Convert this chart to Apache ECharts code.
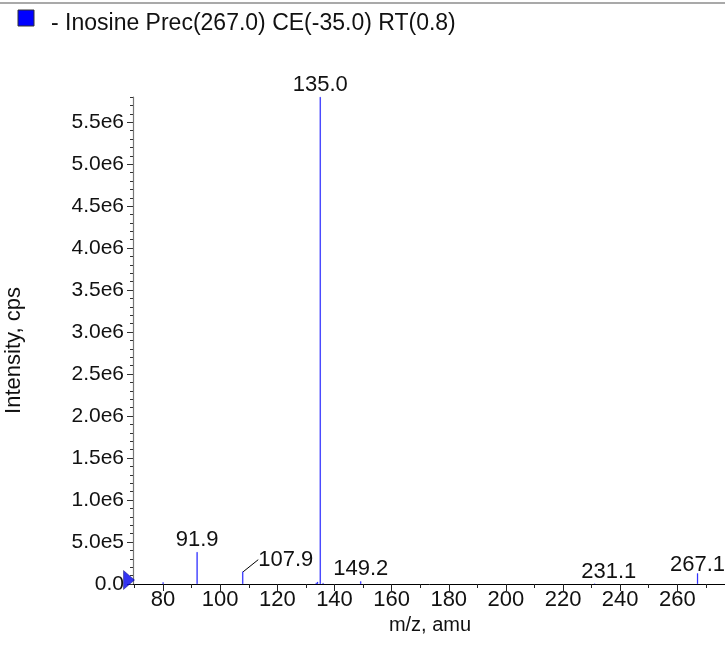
<!DOCTYPE html>
<html>
<head>
<meta charset="utf-8">
<script src="https://cdn.jsdelivr.net/npm/echarts@6/dist/echarts.min.js"></script>
<style>html,body{margin:0;padding:0;background:#fff}#c{width:725px;height:647px}</style>
</head>
<body>
<div id="c"></div>
<script>
// ---- data ----
const seriesName = '- Inosine Prec(267.0) CE(-35.0) RT(0.8)';
const peakMz  = [80.0, 91.9, 107.9, 133.6, 134.1, 135.0, 136.0, 149.2, 231.1, 267.1];
const peakInt = [2.0e4, 3.8e5, 1.47e5, 1.5e4, 2.5e4, 5.8e6, 1.2e4, 3.2e4, 6.0e3, 1.27e5];
const labeledMz = [91.9, 107.9, 135.0, 149.2, 231.1, 267.1];
const xTickLabels = [80, 100, 120, 140, 160, 180, 200, 220, 240, 260];
const xMinorTicks = [70, 80, 90, 100, 110, 120, 130, 140, 150, 160, 170, 180, 190, 200, 210, 220, 230, 240, 250, 260, 270];
const yTickLabels = [0, 5e5, 1e6, 1.5e6, 2e6, 2.5e6, 3e6, 3.5e6, 4e6, 4.5e6, 5e6, 5.5e6];
const yMinorTicks = [];
for (let i = 0; i <= 58; i++) yMinorTicks.push(i * 1e5);
const xMin = 69.47, xMax = 277.4, yMin = 0, yMax = 5.8e6;

// ---- layout (not data) ----
const FONT = 'Liberation Sans, Arial, Helvetica, sans-serif';
const labelShift = { '107.9': [43, 0], '231.1': [14, 0], '267.1': [0, 4] };

const chart = echarts.init(document.getElementById('c'));
const barData = peakMz.map((m, i) => {
  const lab = labeledMz.indexOf(m) >= 0;
  const item = { value: [m, peakInt[i]], label: { show: lab } };
  if (m === 107.9) item.labelLine = { show: true, lineStyle: { color: '#000', width: 1 } };
  return item;
});

const yFmt = v => v === 0 ? '0.0' : v.toExponential(1).replace('e+', 'e');

chart.setOption({
  animation: false,
  backgroundColor: '#fff',
  grid: { left: 133, right: -2, top: 97, bottom: 63, outerBoundsMode: 'none', containLabel: false },
  graphic: [{
    type: 'line', shape: { x1: 0, y1: 3, x2: 725, y2: 3 },
    style: { stroke: '#555', lineWidth: 1.2 }, silent: true
  }, {
    type: 'rect', shape: { x: 18, y: 10, width: 16, height: 16 },
    style: { fill: '#0000ff', stroke: '#333', lineWidth: 1 }, silent: true
  }, {
    type: 'text', x: 51, y: 24, silent: true,
    style: { text: seriesName, fontFamily: FONT, fontSize: 23, fill: '#111', textVerticalAlign: 'middle' }
  }],
  xAxis: [{
    type: 'value', min: xMin, max: xMax,
    name: 'm/z, amu', nameLocation: 'middle', nameGap: 29,
    nameTextStyle: { fontFamily: FONT, fontSize: 20, color: '#111' },
    axisLine: { show: true, onZero: false, lineStyle: { color: '#000', width: 1 } },
    axisTick: { show: true, customValues: xTickLabels, length: 7, lineStyle: { color: '#222' } },
    axisLabel: { customValues: xTickLabels, margin: 5, fontFamily: FONT, fontSize: 22, color: '#111',
      formatter: v => String(v) },
    splitLine: { show: false }
  }, {
    type: 'value', min: xMin, max: xMax, position: 'bottom',
    axisLine: { show: false },
    axisTick: { show: true, customValues: xMinorTicks, length: 4, lineStyle: { color: '#222' } },
    axisLabel: { show: false }, splitLine: { show: false }
  }],
  yAxis: [{
    type: 'value', min: yMin, max: yMax,
    name: 'Intensity, cps', nameLocation: 'middle', nameGap: 108, nameRotate: 90,
    nameTextStyle: { fontFamily: FONT, fontSize: 22, color: '#111', padding: [0, 20, 0, 0] },
    axisLine: { show: true, onZero: false, lineStyle: { color: '#777', width: 1.2 } },
    axisTick: { show: true, customValues: yTickLabels, length: 6, lineStyle: { color: '#333' } },
    axisLabel: { customValues: yTickLabels, margin: 9, fontFamily: FONT, fontSize: 21, color: '#111',
      formatter: yFmt },
    splitLine: { show: false }
  }, {
    type: 'value', min: yMin, max: yMax, position: 'left',
    axisLine: { show: false },
    axisTick: { show: true, customValues: yMinorTicks, length: 3, lineStyle: { color: '#333' } },
    axisLabel: { show: false }, splitLine: { show: false }
  }],
  series: [{
    name: seriesName,
    type: 'bar', xAxisIndex: 0, yAxisIndex: 0,
    barWidth: 1, barMinHeight: 0,
    itemStyle: { color: '#0000ff', borderColor: '#0000ff', borderWidth: 0.3 },
    label: {
      show: false, position: 'top', distance: 1,
      fontFamily: FONT, fontSize: 22, color: '#111',
      formatter: p => p.value[0].toFixed(1)
    },
    labelLayout: p => {
      const s = labelShift[barData[p.dataIndex].value[0].toFixed(1)];
      return s ? { dx: s[0], dy: s[1] } : {};
    },
    labelLine: { show: false, lineStyle: { color: '#000', width: 1 } },
    data: barData
  }, {
    name: 'marker', type: 'scatter', xAxisIndex: 0, yAxisIndex: 0,
    symbol: 'triangle', symbolSize: [19, 11], symbolRotate: -90, symbolOffset: [-4, -4],
    clip: false, silent: true,
    itemStyle: { color: '#0000ee', borderColor: '#000066', borderWidth: 0.5 },
    data: [[xMin, yMin]]
  }]
});
</script>
</body>
</html>
